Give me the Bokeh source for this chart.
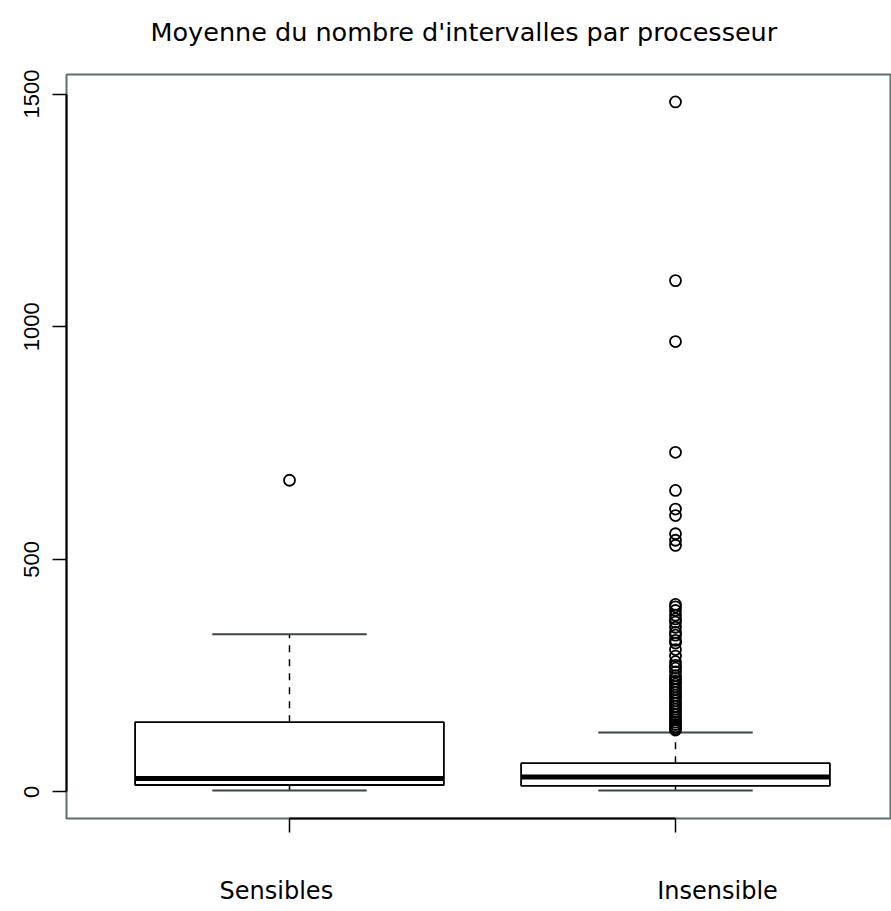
from bokeh.plotting import figure
from bokeh.models import Range1d, FixedTicker, Title, LinearAxis
from bokeh.embed import file_html
from bokeh.resources import INLINE

# ---- data ----
categories = ["Sensibles", "Insensible"]
positions = [1, 2]
q1 = [15, 13]
medians = [29, 32]
q3 = [150, 62]
whisker_low = [3, 3]
whisker_high = [339, 128]
outliers_sensibles = [670]
outliers_insensible = [1483, 1099, 968, 730, 648, 608, 594, 555, 541, 530,
                       403, 398, 390, 380, 372, 365, 354, 343, 337, 326,
                       320, 306, 292, 280, 272, 266, 258, 250, 244, 238,
                       232, 226, 220, 214, 208, 202, 196, 190, 184, 178,
                       172, 166, 160, 155, 150, 145, 140, 136, 133]
y_ticks = [0, 500, 1000, 1500]
title_text = "Moyenne du nombre d'intervalles par processeur"

box_half = 0.4
cap_half = 0.2
label_shift = [-0.034, 0.109]   # the category names sit slightly off their ticks

p = figure(width=891, height=911, output_backend="svg", toolbar_location=None,
           x_range=Range1d(0.4223, 2.5596), y_range=Range1d(-57, 1542),
           min_border_left=66, min_border_right=0, min_border_top=74,
           min_border_bottom=93, x_axis_location=None)
p.background_fill_color = "white"
p.border_fill_color = "white"
p.xgrid.visible = False
p.ygrid.visible = False
p.outline_line_color = "#5d6f6f"
p.outline_line_width = 2

p.title = Title(text=title_text, align="left", offset=84, vertical_align="top",
                text_font="DejaVu Sans", text_font_size="25.5px",
                text_font_style="normal", text_color="black", standoff=32,
                padding=(0, 0, 0, 10))

# whiskers (dashed)
p.segment(x0=positions, x1=positions, y0=q3, y1=whisker_high,
          line_color="black", line_width=1.5, line_dash="7 7")
p.segment(x0=positions, x1=positions, y0=whisker_low, y1=q1,
          line_color="black", line_width=1.5, line_dash="7 7")
# caps
caps_left = [x - cap_half for x in positions]
caps_right = [x + cap_half for x in positions]
p.segment(x0=caps_left, x1=caps_right, y0=whisker_high, y1=whisker_high,
          line_color="#3a4545", line_width=2)
p.segment(x0=caps_left, x1=caps_right, y0=whisker_low, y1=whisker_low,
          line_color="#3a4545", line_width=2)
# boxes
p.quad(left=[x - box_half for x in positions], right=[x + box_half for x in positions],
       bottom=q1, top=q3, fill_color="white", line_color="black", line_width=1.8)
# medians
p.segment(x0=[x - box_half for x in positions], x1=[x + box_half for x in positions],
          y0=medians, y1=medians, line_color="black", line_width=5)
# outliers
p.scatter([positions[0]] * len(outliers_sensibles), outliers_sensibles, marker="circle",
          size=11, fill_color=None, line_color="black", line_width=1.8)
p.scatter([positions[1]] * len(outliers_insensible), outliers_insensible, marker="circle",
          size=11, fill_color=None, line_color="black", line_width=1.8)

# y axis
ya = p.yaxis[0]
ya.ticker = FixedTicker(ticks=y_ticks)
ya.bounds = (y_ticks[0], y_ticks[-1])
ya.major_label_orientation = "vertical"
ya.axis_line_color = "black"
ya.axis_line_width = 2
ya.major_tick_line_width = 1.5
ya.major_tick_out = 14
ya.major_tick_in = 0
ya.minor_tick_line_color = None
ya.major_label_text_font = "Liberation Sans"
ya.major_label_text_font_size = "22px"
ya.major_label_text_color = "black"
ya.major_label_standoff = 13

# x axis: tick marks at the boxes (minor ticks), category names (major, no mark)
label_pos = [x + s for x, s in zip(positions, label_shift)]
xa = LinearAxis(ticker=FixedTicker(ticks=label_pos, minor_ticks=positions),
                bounds=(positions[0], positions[-1]),
                major_label_overrides={lp: lab for lp, lab in zip(label_pos, categories)},
                axis_line_color="black", axis_line_width=2,
                major_tick_line_color=None, major_tick_out=14, major_tick_in=0,
                minor_tick_line_color="black", minor_tick_line_width=1.5,
                minor_tick_out=14, minor_tick_in=0,
                major_label_text_font="DejaVu Sans", major_label_text_font_size="24px",
                major_label_text_color="black", major_label_standoff=44)
p.add_layout(xa, "below")

open("out.html", "w").write(file_html(p, INLINE))
